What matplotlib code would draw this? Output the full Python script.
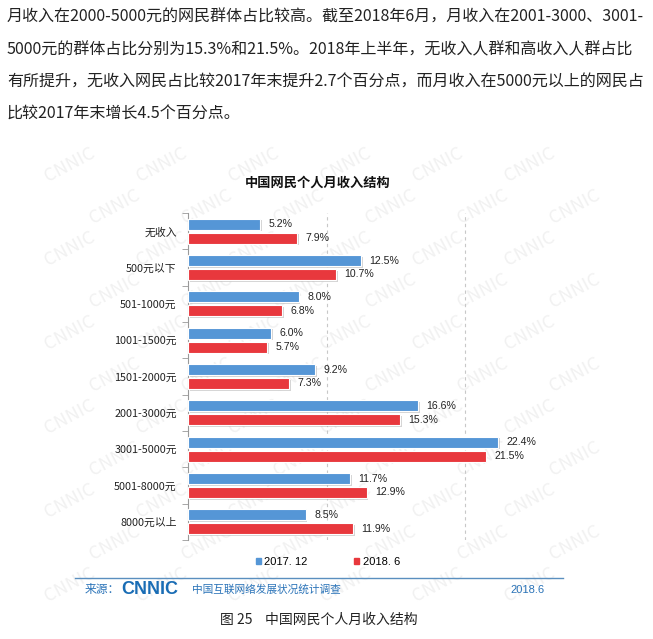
import matplotlib
matplotlib.use('Agg')
import matplotlib.pyplot as plt
from matplotlib.patches import Patch
import matplotlib.patheffects as pe
import numpy as np

plt.rcParams['font.family'] = ['Noto Sans CJK SC', 'DejaVu Sans']

# 数据
categories = ['无收入', '500元以下', '501-1000元', '1001-1500元', '1501-2000元',
              '2001-3000元', '3001-5000元', '5001-8000元', '8000元以上']
v_2017 = [5.2, 12.5, 8.0, 6.0, 9.2, 16.6, 22.4, 11.7, 8.5]
v_2018 = [7.9, 10.7, 6.8, 5.7, 7.3, 15.3, 21.5, 12.9, 11.9]
series_names = ['2017. 12', '2018. 6']

paragraph = [
    '月收入在2000-5000元的网民群体占比较高。截至2018年6月，月收入在2001-3000、3001-',
    '5000元的群体占比分别为15.3%和21.5%。2018年上半年，无收入人群和高收入人群占比',
    '有所提升，无收入网民占比较2017年末提升2.7个百分点，而月收入在5000元以上的网民占',
    '比较2017年末增长4.5个百分点。',
]

W, H = 653, 639
fig = plt.figure(figsize=(W / 100, H / 100), dpi=100)
fig.patch.set_facecolor('white')

def fx(px):
    return px / W

def fy(py):
    return 1 - py / H

# 顶部正文
for i, line in enumerate(paragraph):
    fig.text(fx(7), fy(17 + i * 32.5), line, fontsize=11.55, color='#222222',
             va='center', ha='left')

# 水印 (放在最底层)
for r, yy in enumerate(np.arange(165, 600, 42)):
    off = (r % 2) * 45
    for xx in np.arange(70 + off, 580, 92):
        fig.text(fx(xx), fy(yy), 'CNNIC', fontsize=13, color='#f1f1f1',
                 rotation=28, ha='center', va='center', zorder=-5)

# 图表
ax_left, ax_right, ax_top, ax_bottom = 188, 562, 213, 540
ax = fig.add_axes([fx(ax_left), fy(ax_bottom), fx(ax_right - ax_left),
                   (ax_bottom - ax_top) / H])
ax.patch.set_alpha(0)

blue = '#5596d6'
red = '#e8383d'
y = np.arange(len(categories))
bh = 0.3
off = 0.19
shadow = [pe.SimplePatchShadow(offset=(1.2, -1.2), shadow_rgbFace='#aaaaaa', alpha=0.5),
          pe.Normal()]
b1 = ax.barh(y - off, v_2017, height=bh, color=blue, edgecolor='white', linewidth=0.8, zorder=3)
b2 = ax.barh(y + off, v_2018, height=bh, color=red, edgecolor='white', linewidth=0.8, zorder=3)
for b in list(b1) + list(b2):
    b.set_path_effects(shadow)

for yi, v in zip(y, v_2017):
    ax.text(v + 0.6, yi - off, '%.1f%%' % v, fontsize=7.6, family='Liberation Sans',
            va='center', ha='left', color='#222222')
for yi, v in zip(y, v_2018):
    ax.text(v + 0.6, yi + off, '%.1f%%' % v, fontsize=7.6, family='Liberation Sans',
            va='center', ha='left', color='#222222')

ax.set_xlim(0, 27)
ax.set_ylim(len(categories) - 0.5, -0.5)
ax.set_xticks([])
ax.set_yticks(y)
ax.set_yticklabels(categories, fontsize=7.8, color='#222222')
ax.set_yticks(np.arange(-0.5, len(categories)), minor=True)
ax.tick_params(axis='y', which='major', length=0, pad=8)
ax.tick_params(axis='y', which='minor', length=4, color='#999999')
for s in ['top', 'right', 'bottom']:
    ax.spines[s].set_visible(False)
ax.spines['left'].set_color('#999999')
ax.spines['left'].set_linewidth(0.8)
for g in [10, 20]:
    ax.axvline(g, color='#c8c8c8', linestyle=(0, (3, 3)), linewidth=0.8, zorder=1)

# 标题
fig.text(fx(318), fy(183), '中国网民个人月收入结构', fontsize=9.5, fontweight='bold',
         ha='center', va='center', color='#111111')

# 图例
handles = [Patch(color=blue), Patch(color=red)]
fig.legend(handles, series_names, loc='center', bbox_to_anchor=(fx(328), fy(562)),
           ncol=2, frameon=False, handlelength=0.45, handleheight=0.45,
           handletextpad=0.3, columnspacing=4.2,
           prop={'family': 'Liberation Sans', 'size': 8})

# 来源
fig.add_artist(plt.Line2D([fx(75), fx(563)], [fy(578), fy(578)], color='#5a8fbf',
                          linewidth=1))
fig.text(fx(85), fy(590), '来源：', fontsize=8.5, color='#2a73b8', va='center', ha='left')
fig.text(fx(121), fy(589), 'CNNIC', fontsize=13, fontweight='heavy', color='#1a6db5',
         va='center', ha='left', family='Liberation Sans')
fig.text(fx(192), fy(590), '中国互联网络发展状况统计调查', fontsize=7.7, color='#2a73b8',
         va='center', ha='left')
fig.text(fx(510), fy(590), '2018.6', fontsize=8, color='#2a73b8', va='center',
         ha='left', family='Liberation Sans')

# 图注
fig.text(fx(220), fy(620), '图 25    中国网民个人月收入结构', fontsize=10, color='#222222',
         va='center', ha='left')

fig.savefig('out.png', dpi=100, facecolor='white')
